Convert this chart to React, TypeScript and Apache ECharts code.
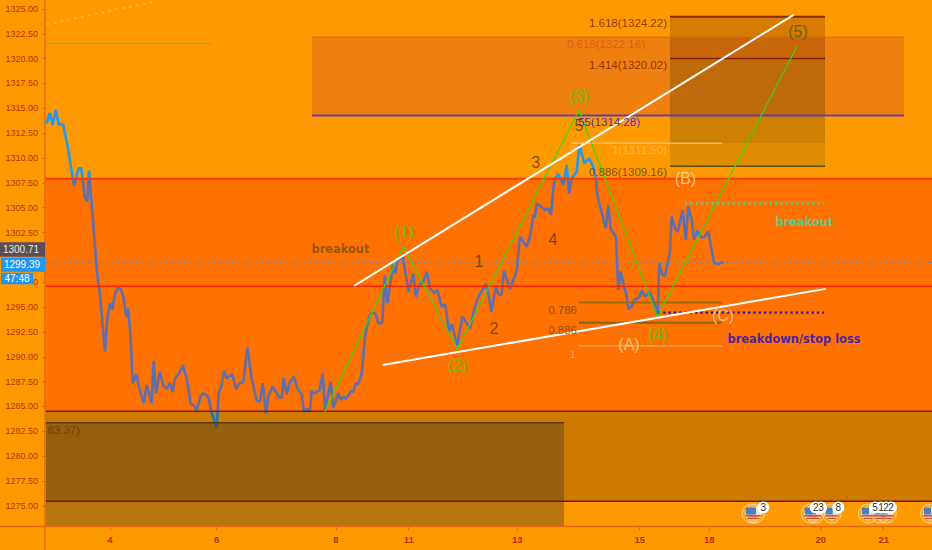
import React, { useEffect, useRef } from "react";
import * as echarts from "echarts";

const SANS = '"Liberation Sans", Arial, sans-serif';
const BOLD = '"DejaVu Sans", Verdana, sans-serif';

// bar position along the time axis and the close at that position
const barPositions = [46.7,50,52.7,55.7,58.7,63.3,68.3,74,78.7,81.3,84.7,87.3,89,91.3,97.3,100,105,107.3,110,112.3,115,118.3,120.7,123.3,126.3,128.3,130.7,132.7,136.3,139.3,143.7,146.7,151.7,153.7,156,159.7,163.3,166.7,170,172.7,175,180,182.7,186.7,190.7,193.3,196.7,200.7,203.3,208.3,211.7,216.7,218.7,221.3,224,226.7,232.3,236,239.3,243.3,247.3,251.7,256.7,260,262.7,266,268.3,272.7,279.3,281.7,283.7,286.7,290,294,297.3,301.7,304,306.7,310,311.7,314,319.3,322.7,325,330.7,333.3,338.3,340.7,343.3,346,350.7,353.3,355.7,358.3,361.7,365,369.3,372,375.7,378.3,382.3,384.7,387.3,390,392.7,395.3,397.3,400,402.7,405,408.3,413.3,416,419.3,423.3,426.7,430,434,437.3,441.7,445,449.3,451.7,457.3,462.3,470,475,478.3,486,488.3,491.3,495.7,499,501.7,504,510,516.7,520,526.7,530,533.3,535,536.7,545,548.3,551,553.3,555,558.3,563.3,566.7,569.3,571.7,576.7,579.3,584.3,589,593.3,596,597.3,599.3,605.7,608.3,610.7,616,618.3,620.7,626.7,628.3,631.7,634,639.3,641.7,645,649.3,653.3,657.7,659.3,662.7,665,670,671.7,675,677.7,682.7,685.7,688.3,691.7,694,697.3,700.7,704,708.3,714,718.3,723.3];
const closes = [1313.5,1314.53,1313.32,1314.83,1313.43,1313.32,1310.81,1307.19,1308.97,1308.97,1306.11,1305.61,1308.73,1305.78,1298.23,1296.22,1290.52,1293.88,1295.39,1294.71,1296.39,1296.96,1296.83,1296.05,1294.04,1294.88,1291.87,1287.34,1288.24,1286.83,1285.33,1287.17,1285.33,1289.58,1286.33,1288.45,1287.1,1286.77,1287.34,1286.43,1287.84,1288.45,1289.18,1287.84,1285.23,1285.16,1284.58,1286.09,1286.33,1285.99,1284.32,1282.91,1286.43,1287,1288.58,1287.84,1288.27,1286.73,1287.34,1287.44,1290.92,1287.84,1285.56,1285.49,1287.34,1284.32,1285.99,1287,1285.89,1285.89,1287.84,1286.23,1287.5,1288,1286.83,1286.23,1284.48,1284.72,1284.65,1286.59,1286.33,1286.59,1288.34,1284.65,1287.5,1284.82,1286.33,1285.66,1285.99,1285.76,1286.49,1286.49,1287.34,1287.27,1288.34,1292.03,1294.04,1294.44,1294.31,1293.37,1293.37,1298.23,1295.39,1297.06,1299.24,1298.4,1299.57,1299.91,1300.08,1298.74,1296.55,1298.4,1296.05,1297.23,1297.56,1298.57,1296.9,1296.39,1296.72,1295.04,1295.32,1292.53,1293.3,1291.19,1294.04,1292.87,1295.04,1296.05,1297.33,1296.39,1294.54,1297,1296.22,1296.32,1298.67,1296.8,1298.67,1302.09,1301.08,1302.09,1304.27,1304.04,1305.45,1304.77,1304.94,1304.27,1306.96,1307.96,1308.4,1307.29,1309.3,1306.45,1307.96,1308.63,1311.31,1309.47,1309.97,1309.13,1307.79,1306.28,1305.45,1302.93,1305.28,1302.83,1302.09,1296.72,1298.57,1296.05,1294.81,1295.04,1295.72,1295.99,1296.65,1296.05,1296.55,1295.72,1294.31,1299.41,1298.23,1298.13,1300.58,1304.1,1302.93,1302.59,1304.77,1301.76,1305.11,1303.77,1301.76,1302.69,1302.03,1302.03,1302.59,1299.47,1299.34,1299.54];

const yTicks = [1275,1277.5,1280,1282.5,1285,1287.5,1290,1292.5,1295,1297.5,1300,1302.5,1305,1307.5,1310,1312.5,1315,1317.5,1320,1322.5,1325];
const dayTicks = [110,216.7,336,408.7,517.3,639.7,709.3,820.7,883.7];
const dayLabels = ["4","6","8","11","13","15","18","20","21"];

// shaded zones: [x0, x1, price0, price1]
const zones = [
  [46,932,1307.92,1284.52],
  [46,932,1284.52,1275.47],
  [46,564,1283.37,1272.88],
  [312,904,1322.16,1314.28],
  [670,825,1324.22,1320.02],
  [670,825,1320.02,1311.5],
  [670,825,1311.5,1309.16],
];
const zoneFills = [
  "rgba(255,10,0,0.28)",
  "rgba(0,0,0,0.2)",
  "rgba(20,36,50,0.3)",
  "rgba(175,28,75,0.2)",
  "rgba(50,0,0,0.2)",
  "rgba(0,25,0,0.2)",
  "rgba(0,60,0,0.13)",
];

// horizontal levels: [x0, x1, price]
const levels = [
  [46,932,1307.92],[46,932,1297.1],[46,932,1284.52],[46,564,1283.37],[46,932,1275.47],
  [312,904,1322.16],[312,904,1314.28],
  [670,825,1324.22],[670,825,1320.02],[570,722,1311.5],[670,825,1309.16],
  [579,722,1295.45],[579,722,1293.43],[579,722,1291.09],
  [47,211,1321.54],
];
const levelColors = ["#ff3a00","#ff2000","#801a00","#5f3c00","#701800","#e2600f","#6a3fa0","#8a2a00","#7a2000","#ffcf90","#5c4a00","#9a6a10","#8c6208","#ffb880","#5cb58a"];
const levelWidths = [2,1.5,1.5,1.5,1.5,1,2,2,1.5,1,1.5,2,2,1,1];

const lastPriceLevel = [[46,1299.5],[932,1299.5]];
const resistanceDots = [[46.7,1323.46],[157,1325.8]];
const breakoutDots = [[685,1305.43],[824,1305.43]];
const breakdownDots = [[658,1294.44],[824,1294.44]];
const upperWedge = [[354,1297.13],[794,1324.42]];
const lowerWedge = [[382.5,1289.18],[825.7,1296.83]];
const wavePath = [[325,1284.48],[403.3,1301.1],[457.3,1290.79],[579,1314.83],[657.3,1294.04],[797.3,1321.3]];

// annotation texts: [x, price, text]
const fibRight = [
  [667,1323.59,"1.618(1324.22)"],[645,1321.47,"0.618(1322.16)"],[667,1319.36,"1.414(1320.02)"],
  [667,1310.81,"1(1311.50)"],[667,1308.55,"0.886(1309.16)"],[640,1313.63,"55(1314.28)"],
  [577,1294.71,"0.786"],[577,1292.7,"0.886"],[576,1290.29,"1"],[576,1310.81,"0"],[80,1282.64,"83.37)"],
];
const fibRightColors = ["#6e2200","#d95020","#6e2200","#ffc070","#5c4000","#1212e0","#6b4800","#6b4800","#ffb880","#ffb560","#5f3c00"];
const waveMarks = [
  [404,1302.46,"(1)"],[457.5,1289.08,"(2)"],[579.5,1316.14,"(3)"],[658,1292.2,"(4)"],[798,1322.68,"(5)"],
  [479,1299.54,"1"],[494,1292.8,"2"],[535.7,1309.5,"3"],[553,1301.76,"4"],[579,1313.32,"5"],
  [629,1291.19,"(A)"],[685.5,1307.9,"(B)"],[723,1294.11,"(C)"],
];
const waveColors = ["#38d810","#38d810","#38d810","#38d810","#4a5a10","#5a3a00","#5a3a00","#5a3a00","#5a3a00","#5a3a00","#ffd9b0","#ffd9b0","#ffd9b0"];
const callouts = [
  [340.5,1300.85,"breakout"],[804.5,1303.57,"breakout"],[794,1291.75,"breakdown/stop loss"],
];
const calloutColors = ["#7a5200","#2fe0b0","#1410d8"];

const flagCenters = [751.7,755,810.7,815,831.7,868,880,886.7,930];
const flagBubbles = [[763.3,"3"],[815.7,"2"],[821,"3"],[838.3,"8"],[875,"5"],[881,"1"],[886,"2"],[891,"2"]];

function poly(name: string, data: number[][], color: string, width: number, z: number, type: any = "solid", cap: any = "butt") {
  return {
    name, type: "line", data, symbol: "none", silent: true, z, animation: false,
    lineStyle: { color, width, type, cap },
  };
}

function textSeries(rows: any[], colors: string[], align: string, font: any) {
  return {
    type: "scatter", z: 9, silent: true, symbol: "circle", symbolSize: 1,
    itemStyle: { color: "transparent" },
    data: rows.map((r, i) => ({
      value: [r[0], r[1]],
      label: {
        show: true, position: "inside", align, verticalAlign: "middle", formatter: r[2],
        color: colors[i], ...font,
      },
    })),
  };
}

function flagGraphics() {
  const out: any[] = [];
  const cy = 513.5;
  flagCenters.forEach((cx) => {
    out.push({ type: "circle", z: 50, shape: { cx, cy, r: 9.5 }, style: { fill: "rgba(255,200,130,0.2)", stroke: "rgba(255,225,190,0.75)", lineWidth: 1 } });
    out.push({ type: "circle", z: 50, shape: { cx, cy, r: 7 }, style: { fill: "#f2ddc0" } });
    out.push({ type: "rect", z: 51, shape: { x: cx - 6.5, y: cy + 1.5, width: 13, height: 1.6 }, style: { fill: "#d8532a" } });
    out.push({ type: "rect", z: 51, shape: { x: cx - 4.5, y: cy + 4.2, width: 9, height: 1.4 }, style: { fill: "#d8532a" } });
    out.push({ type: "rect", z: 52, shape: { x: cx - 6, y: cy - 6, width: 7, height: 7 }, style: { fill: "#4a7fc4" } });
  });
  flagBubbles.forEach(([x]) => {
    out.push({ type: "circle", z: 53, shape: { cx: x, cy: 507.5, r: 6 }, style: { fill: "#ffffff" } });
  });
  flagBubbles.forEach(([x, t]) => {
    out.push({ type: "text", z: 54, x: x as number, y: 507.5, style: { text: t as string, fill: "#333333", font: `10px ${SANS}`, align: "center", verticalAlign: "middle" } });
  });
  return out;
}

function tag(x: number, y: number, w: number, h: number, fill: string, text: string, color: string) {
  return [
    { type: "rect", z: 60, shape: { x, y, width: w, height: h }, style: { fill } },
    { type: "text", z: 61, x: x + (w >= 44 ? 21 : w / 2), y: y + h / 2, style: { text, fill: color, font: `10px ${SANS}`, align: "center", verticalAlign: "middle" } },
  ];
}

export default function App() {
  const ref = useRef<HTMLDivElement>(null);
  useEffect(() => {
    document.body.style.margin = "0";
    document.body.style.background = "#FF9900";
    const chart = echarts.init(ref.current!, null, { renderer: "svg" });
    const axisColor = "#e2690f";
    const labelColor = "#b83200";
    chart.setOption({
      animation: false,
      backgroundColor: "#FF9900",
      grid: { left: 45, right: 0, top: 0, height: 526.5, containLabel: false },
      xAxis: {
        type: "value", min: 45, max: 932,
        splitLine: { show: false },
        axisLine: { show: false },
        axisTick: { show: true, customValues: dayTicks, length: 4, lineStyle: { color: axisColor, width: 1 } },
        axisLabel: {
          customValues: dayTicks, margin: 8, color: labelColor, fontSize: 9.5, fontWeight: "bold", fontFamily: SANS,
          formatter: (v: number) => {
            const i = dayTicks.findIndex((t) => Math.abs(t - v) < 0.01);
            return i >= 0 ? dayLabels[i] : "";
          },
        },
      },
      yAxis: {
        type: "value", min: 1272.92, max: 1325.9,
        splitLine: { show: false },
        axisLine: { show: false },
        axisTick: { show: true, customValues: yTicks, length: 3, lineStyle: { color: axisColor, width: 1 } },
        axisLabel: {
          customValues: yTicks, margin: 7, color: labelColor, fontSize: 9, fontFamily: SANS,
          // the price tags hide 1300.00 and all but the last digit of 1297.50
          formatter: (v: number) => (v === 1300 ? "" : v === 1297.5 ? "0" : v.toFixed(2)),
        },
      },
      graphic: [
        { type: "line", z: 40, shape: { x1: 0, y1: 526.5, x2: 932, y2: 526.5 }, style: { stroke: axisColor, lineWidth: 1.5 } },
        { type: "line", z: 40, shape: { x1: 45, y1: 0, x2: 45, y2: 550 }, style: { stroke: axisColor, lineWidth: 1.5 } },
        ...tag(0, 242.3, 45, 14.4, "#5d4c5a", "1300.71", "#e4ecd8"),
        ...tag(1, 257.7, 44, 14, "#2196F3", "1299.39", "#ffffff"),
        ...tag(1, 272.8, 32, 11.5, "#2196F3", "47:48", "#ffffff"),
        ...flagGraphics(),
      ],
      series: [
        poly("price", barPositions.map((x, i) => [x, closes[i]]), "#2196F3", 2.6, 2),
        {
          type: "custom", z: 3, silent: true, clip: true,
          encode: { x: [0, 1], y: [2, 3] },
          data: zones,
          renderItem: (params: any, api: any) => {
            const a = api.coord([api.value(0), api.value(2)]);
            const b = api.coord([api.value(1), api.value(3)]);
            return {
              type: "rect",
              shape: { x: a[0], y: a[1], width: b[0] - a[0], height: b[1] - a[1] },
              style: { fill: zoneFills[params.dataIndex] },
            };
          },
        },
        ...levels.map((l, i) => poly(`level${i}`, [[l[0], l[2]], [l[1], l[2]]], levelColors[i], levelWidths[i], 4)),
        poly("lastPrice", lastPriceLevel, "#4f86c8", 1, 4, [1, 2]),
        poly("resistance", resistanceDots, "#ffb820", 2.5, 4, [2.5, 4.5]),
        poly("breakoutLevel", breakoutDots, "#33ddbb", 2.2, 5, [2.2, 3.1]),
        poly("breakdownLevel", breakdownDots, "#1a10d0", 2.2, 5, [2.2, 3.1]),
        poly("wave", wavePath, "#38d810", 1.2, 6),
        poly("upperWedge", upperWedge, "#ffffff", 2, 7),
        poly("lowerWedge", lowerWedge, "#ffffff", 2, 7),
        textSeries(fibRight, fibRightColors, "right", { fontSize: 11.5, fontFamily: SANS }),
        textSeries(waveMarks, waveColors, "center", { fontSize: 16, fontFamily: SANS }),
        textSeries(callouts, calloutColors, "center", { fontSize: 11.4, fontWeight: "bold", fontFamily: BOLD }),
      ],
    });
    return () => chart.dispose();
  }, []);
  return <div ref={ref} style={{ width: 932, height: 550 }} />;
}
